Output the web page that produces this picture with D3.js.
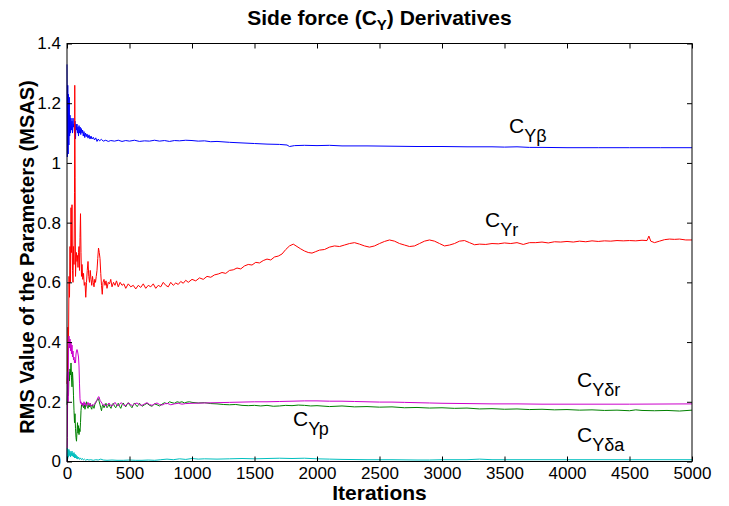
<!DOCTYPE html>
<html>
<head>
<meta charset="utf-8">
<script src="https://cdn.jsdelivr.net/npm/d3@7"></script>
<style>
body { margin: 0; background: #fff; }
text { font-family: "Liberation Sans", Arial, Helvetica, sans-serif; }
</style>
</head>
<body>
<svg id="chart" width="729" height="506"></svg>
<script>

var xTicks = [0, 500, 1000, 1500, 2000, 2500, 3000, 3500, 4000, 4500, 5000];
var yTicks = [0, 0.2, 0.4, 0.6, 0.8, 1, 1.2, 1.4];

// [iteration, RMS value]
var cyBeta = [[0,1.33],[3,1.02],[6,1.26],[9,1.03],[12,1.23],[15,1.06],[18,1.22],[21,1.09],[24,1.16],[28,1.1],[32,1.15],[36,1.11],[40,1.14],[44,1.1],[48,1.15],[52,1.12],[56,1.13],[60,1.1],[64,1.14],[68,1.08],[72,1.13],[76,1.11],[80,1.13],[84,1.1],[88,1.12],[92,1.09],[96,1.125],[100,1.1],[105,1.12],[110,1.095],[115,1.115],[120,1.1],[125,1.11],[130,1.09],[136,1.105],[142,1.085],[148,1.1],[154,1.088],[160,1.097],[168,1.083],[176,1.094],[184,1.08],[192,1.09],[200,1.08],[210,1.086],[220,1.077],[230,1.084],[240,1.072],[250,1.08],[260,1.074],[275,1.079],[290,1.073],[310,1.076],[330,1.072],[350,1.075],[380,1.073],[410,1.076],[440,1.072],[470,1.075],[500,1.073],[540,1.076],[580,1.072],[620,1.074],[660,1.073],[700,1.076],[740,1.073],[780,1.075],[820,1.072],[860,1.075],[900,1.074],[950,1.076],[1000,1.075],[1050,1.073],[1100,1.074],[1150,1.071],[1200,1.072],[1300,1.069],[1400,1.067],[1500,1.065],[1600,1.063],[1700,1.062],[1760,1.06],[1780,1.055],[1820,1.058],[1900,1.059],[2000,1.058],[2100,1.059],[2200,1.057],[2400,1.057],[2600,1.056],[2800,1.055],[3000,1.055],[3200,1.054],[3400,1.054],[3500,1.053],[3600,1.054],[3700,1.052],[3800,1.052],[4000,1.051],[4250,1.051],[4500,1.051],[4750,1.051],[5000,1.051]];

var cyR = [[0,0.26],[4,0.3],[8,0.45],[12,0.4],[16,0.62],[20,0.55],[24,0.72],[28,0.6],[32,0.85],[36,0.7],[40,0.86],[44,0.64],[48,0.6],[52,0.72],[56,0.66],[60,0.9],[62,1.26],[65,0.95],[68,0.62],[72,0.68],[76,0.7],[80,0.67],[84,0.69],[88,0.65],[92,0.7],[96,0.72],[100,0.64],[104,0.75],[108,0.83],[112,0.7],[116,0.62],[120,0.66],[126,0.61],[132,0.63],[138,0.59],[144,0.6],[150,0.55],[156,0.6],[162,0.64],[168,0.67],[174,0.62],[180,0.6],[186,0.64],[192,0.61],[198,0.59],[204,0.62],[210,0.6],[216,0.585],[222,0.61],[228,0.6],[234,0.62],[240,0.64],[246,0.68],[252,0.715],[258,0.7],[264,0.68],[270,0.63],[276,0.59],[282,0.56],[288,0.6],[296,0.61],[304,0.59],[312,0.605],[320,0.58],[330,0.6],[340,0.595],[350,0.61],[360,0.585],[372,0.6],[384,0.59],[396,0.605],[410,0.585],[425,0.6],[440,0.59],[455,0.595],[470,0.58],[490,0.595],[510,0.585],[530,0.59],[550,0.578],[570,0.59],[590,0.583],[610,0.595],[630,0.58],[650,0.59],[670,0.585],[690,0.595],[710,0.58],[730,0.59],[750,0.585],[770,0.6],[790,0.59],[810,0.585],[830,0.6],[850,0.59],[870,0.598],[890,0.593],[910,0.603],[930,0.597],[950,0.607],[970,0.6],[1000,0.61],[1030,0.605],[1060,0.615],[1090,0.61],[1120,0.62],[1150,0.617],[1180,0.625],[1210,0.628],[1240,0.633],[1270,0.63],[1300,0.64],[1330,0.642],[1360,0.648],[1390,0.645],[1420,0.655],[1450,0.66],[1480,0.658],[1510,0.667],[1540,0.665],[1570,0.673],[1600,0.678],[1630,0.675],[1660,0.685],[1690,0.688],[1720,0.695],[1750,0.71],[1780,0.722],[1810,0.728],[1840,0.72],[1870,0.712],[1900,0.705],[1930,0.7],[1960,0.698],[1990,0.703],[2020,0.708],[2060,0.71],[2100,0.718],[2140,0.722],[2180,0.72],[2220,0.725],[2260,0.73],[2300,0.733],[2340,0.728],[2380,0.722],[2420,0.718],[2460,0.722],[2500,0.73],[2540,0.737],[2580,0.742],[2620,0.738],[2660,0.73],[2700,0.725],[2740,0.72],[2780,0.722],[2820,0.73],[2860,0.738],[2900,0.742],[2940,0.738],[2980,0.73],[3020,0.722],[3060,0.725],[3100,0.73],[3140,0.738],[3180,0.74],[3220,0.733],[3260,0.726],[3300,0.728],[3350,0.727],[3400,0.73],[3450,0.729],[3500,0.732],[3550,0.73],[3600,0.733],[3650,0.727],[3700,0.733],[3750,0.733],[3800,0.735],[3850,0.732],[3900,0.736],[3950,0.735],[4000,0.737],[4050,0.735],[4100,0.738],[4150,0.736],[4200,0.739],[4250,0.737],[4300,0.739],[4350,0.738],[4400,0.74],[4450,0.739],[4500,0.74],[4550,0.739],[4600,0.741],[4640,0.74],[4655,0.755],[4670,0.738],[4700,0.733],[4740,0.738],[4780,0.743],[4820,0.745],[4860,0.744],[4900,0.745],[4950,0.742],[5000,0.742]];

var cyDr = [[0,0.0],[3,0.08],[6,0.3],[9,0.2],[12,0.38],[16,0.42],[20,0.38],[24,0.41],[28,0.37],[32,0.4],[36,0.36],[40,0.39],[44,0.35],[48,0.37],[52,0.34],[56,0.35],[60,0.33],[64,0.34],[68,0.33],[72,0.36],[76,0.37],[80,0.375],[84,0.37],[88,0.36],[92,0.35],[96,0.32],[100,0.26],[104,0.21],[108,0.195],[112,0.2],[118,0.19],[124,0.195],[130,0.185],[136,0.2],[142,0.19],[148,0.195],[154,0.185],[160,0.19],[168,0.198],[176,0.188],[184,0.195],[192,0.185],[200,0.19],[210,0.188],[220,0.193],[230,0.2],[240,0.205],[248,0.215],[256,0.217],[264,0.205],[272,0.2],[280,0.195],[290,0.188],[300,0.192],[312,0.185],[324,0.19],[336,0.196],[348,0.188],[360,0.185],[372,0.192],[384,0.198],[396,0.19],[408,0.186],[420,0.192],[435,0.197],[450,0.19],[465,0.186],[480,0.192],[495,0.196],[510,0.19],[525,0.187],[540,0.193],[560,0.196],[580,0.19],[600,0.188],[620,0.193],[640,0.197],[660,0.191],[680,0.188],[700,0.193],[720,0.196],[740,0.191],[760,0.189],[780,0.193],[800,0.195],[830,0.19],[860,0.193],[890,0.195],[920,0.192],[950,0.194],[1000,0.195],[1100,0.196],[1200,0.197],[1300,0.198],[1400,0.199],[1500,0.2],[1600,0.2],[1700,0.201],[1800,0.202],[1900,0.203],[2000,0.203],[2100,0.202],[2200,0.202],[2300,0.201],[2400,0.2],[2500,0.199],[2600,0.199],[2700,0.198],[2800,0.197],[2900,0.196],[3000,0.195],[3200,0.194],[3400,0.193],[3600,0.193],[3800,0.192],[4000,0.192],[4500,0.192],[5000,0.193]];

var cyP = [[0,0.19],[4,0.24],[8,0.28],[12,0.22],[16,0.3],[20,0.27],[24,0.31],[28,0.29],[32,0.33],[36,0.28],[40,0.25],[44,0.3],[48,0.27],[52,0.22],[56,0.17],[60,0.13],[64,0.16],[68,0.11],[72,0.08],[76,0.068],[80,0.1],[84,0.13],[88,0.095],[92,0.12],[96,0.09],[100,0.11],[104,0.1],[108,0.13],[112,0.17],[116,0.19],[120,0.185],[126,0.195],[132,0.18],[138,0.19],[144,0.175],[150,0.19],[156,0.2],[162,0.185],[168,0.178],[174,0.19],[180,0.183],[186,0.195],[192,0.18],[198,0.175],[204,0.19],[210,0.185],[216,0.178],[222,0.19],[228,0.195],[234,0.2],[240,0.205],[246,0.21],[252,0.21],[258,0.2],[264,0.19],[270,0.18],[276,0.17],[282,0.185],[288,0.19],[296,0.18],[304,0.188],[312,0.195],[320,0.18],[328,0.185],[336,0.192],[344,0.183],[352,0.178],[360,0.19],[370,0.195],[380,0.185],[390,0.18],[400,0.19],[410,0.195],[420,0.185],[430,0.178],[440,0.19],[450,0.196],[460,0.188],[470,0.183],[480,0.192],[490,0.197],[500,0.19],[510,0.185],[520,0.18],[530,0.19],[540,0.196],[550,0.19],[560,0.184],[570,0.188],[580,0.195],[590,0.19],[600,0.185],[620,0.19],[640,0.195],[660,0.188],[680,0.185],[700,0.193],[720,0.19],[740,0.186],[760,0.192],[780,0.197],[800,0.193],[820,0.2],[840,0.197],[860,0.195],[880,0.2],[900,0.198],[920,0.2],[940,0.196],[960,0.199],[980,0.2],[1000,0.198],[1050,0.196],[1100,0.197],[1150,0.194],[1200,0.193],[1250,0.191],[1300,0.19],[1350,0.191],[1400,0.188],[1450,0.187],[1500,0.188],[1550,0.186],[1600,0.188],[1650,0.185],[1700,0.186],[1750,0.188],[1800,0.187],[1850,0.189],[1900,0.188],[1950,0.186],[2000,0.187],[2100,0.184],[2200,0.186],[2300,0.183],[2400,0.184],[2500,0.182],[2600,0.183],[2700,0.18],[2800,0.181],[2900,0.179],[3000,0.18],[3100,0.178],[3200,0.179],[3300,0.176],[3400,0.177],[3500,0.175],[3600,0.176],[3700,0.174],[3800,0.175],[3900,0.173],[4000,0.174],[4100,0.172],[4200,0.173],[4300,0.171],[4400,0.172],[4500,0.17],[4550,0.173],[4600,0.171],[4700,0.17],[4800,0.171],[4900,0.169],[5000,0.172]];

var cyDa = [[0,0.003],[3,0.045],[6,0.01],[9,0.04],[12,0.015],[16,0.04],[20,0.02],[24,0.035],[28,0.015],[32,0.03],[36,0.02],[40,0.035],[44,0.018],[48,0.028],[52,0.015],[56,0.03],[60,0.012],[64,0.025],[68,0.012],[72,0.022],[76,0.01],[80,0.018],[86,0.008],[92,0.015],[100,0.007],[108,0.012],[116,0.006],[124,0.01],[132,0.005],[140,0.008],[150,0.004],[160,0.007],[175,0.005],[190,0.006],[210,0.004],[230,0.006],[250,0.005],[270,0.008],[290,0.005],[320,0.004],[360,0.005],[400,0.004],[450,0.004],[500,0.005],[550,0.004],[600,0.004],[650,0.005],[700,0.004],[750,0.006],[800,0.008],[850,0.006],[900,0.009],[950,0.007],[1000,0.01],[1050,0.008],[1100,0.009],[1200,0.008],[1300,0.009],[1400,0.01],[1500,0.009],[1600,0.01],[1700,0.011],[1800,0.01],[1900,0.011],[2000,0.009],[2100,0.008],[2200,0.007],[2400,0.006],[2600,0.006],[2800,0.005],[2900,0.005],[3000,0.006],[3200,0.006],[3300,0.008],[3400,0.006],[3600,0.006],[3800,0.006],[4000,0.006],[4500,0.006],[5000,0.006]];

var seriesNames = ["Yβ", "Yr", "Yp", "Yδr", "Yδa"];
var seriesData = [cyBeta, cyR, cyP, cyDr, cyDa];

var colors = ["#0000ff", "#ff0000", "#008000", "#cc00cc", "#00bfbf"];
// where each C label sits, in data units [iteration, value]
var labelSpots = [[3536, 1.10], [3344, 0.785], [1808, 0.119], [4080, 0.2495], [4080, 0.0653]];

var plotL = 67, plotR = 692, plotT = 43.5, plotB = 461.5;

var x = d3.scaleLinear().domain([0, 5000]).range([plotL, plotR]);
var y = d3.scaleLinear().domain([0, 1.4]).range([plotB, plotT]);

var svg = d3.select("#chart");
var font = '"Liberation Sans", Arial, Helvetica, sans-serif';

var line = d3.line()
  .x(function(d){ return x(d[0]); })
  .y(function(d){ return y(d[1]); });

// lines, in matlab plot order
[0, 1, 2, 3, 4].forEach(function(i){
  svg.append("path")
    .datum(seriesData[i])
    .attr("fill", "none")
    .attr("stroke", colors[i])
    .attr("stroke-width", 1)
    .attr("stroke-linejoin", "round")
    .attr("d", line);
});

function fmt(d){ return String(+d.toFixed(1)); }

var xa = svg.append("g")
  .attr("transform", "translate(0," + plotB + ")")
  .call(d3.axisBottom(x).tickValues(xTicks).tickSize(-5).tickPadding(5).tickFormat(fmt));
var ya = svg.append("g")
  .attr("transform", "translate(" + plotL + ",0)")
  .call(d3.axisLeft(y).tickValues(yTicks).tickSize(-5).tickPadding(6).tickFormat(fmt));
var xt = svg.append("g")
  .attr("transform", "translate(0," + plotT + ")")
  .call(d3.axisTop(x).tickValues(xTicks).tickSize(-5).tickFormat(""));
var yr = svg.append("g")
  .attr("transform", "translate(" + plotR + ",0)")
  .call(d3.axisRight(y).tickValues(yTicks).tickSize(-5).tickFormat(""));

[xa, ya, xt, yr].forEach(function(g){
  g.select(".domain").remove();
  g.selectAll("line").attr("stroke", "#000");
  g.selectAll("text").attr("font-family", font).attr("font-size", 17).attr("fill", "#000");
});

svg.append("rect")
  .attr("x", plotL).attr("y", plotT)
  .attr("width", plotR - plotL).attr("height", plotB - plotT)
  .attr("fill", "none").attr("stroke", "#000").attr("stroke-width", 1);

// title
var title = svg.append("text")
  .attr("x", (plotL + plotR) / 2).attr("y", 25)
  .attr("text-anchor", "middle")
  .attr("font-weight", "bold").attr("font-size", 21);
title.append("tspan").text("Side force (C");
title.append("tspan").attr("font-size", 15).attr("dy", 5).text("Y");
title.append("tspan").attr("dy", -5).text(") Derivatives");

svg.append("text")
  .attr("x", (plotL + plotR) / 2).attr("y", 500)
  .attr("text-anchor", "middle")
  .attr("font-weight", "bold").attr("font-size", 21)
  .text("Iterations");

svg.append("text")
  .attr("transform", "translate(34,257) rotate(-90)")
  .attr("text-anchor", "middle")
  .attr("font-weight", "bold").attr("font-size", 20)
  .text("RMS Value of the Parameters (MSAS)");

// curve labels C_Y..
seriesNames.forEach(function(name, i){
  var t = svg.append("text")
    .attr("x", x(labelSpots[i][0]))
    .attr("y", y(labelSpots[i][1]))
    .attr("font-size", 21);
  t.append("tspan").text("C");
  t.append("tspan").attr("font-size", 18).attr("dy", 9).text(name);
});

</script>
</body>
</html>
